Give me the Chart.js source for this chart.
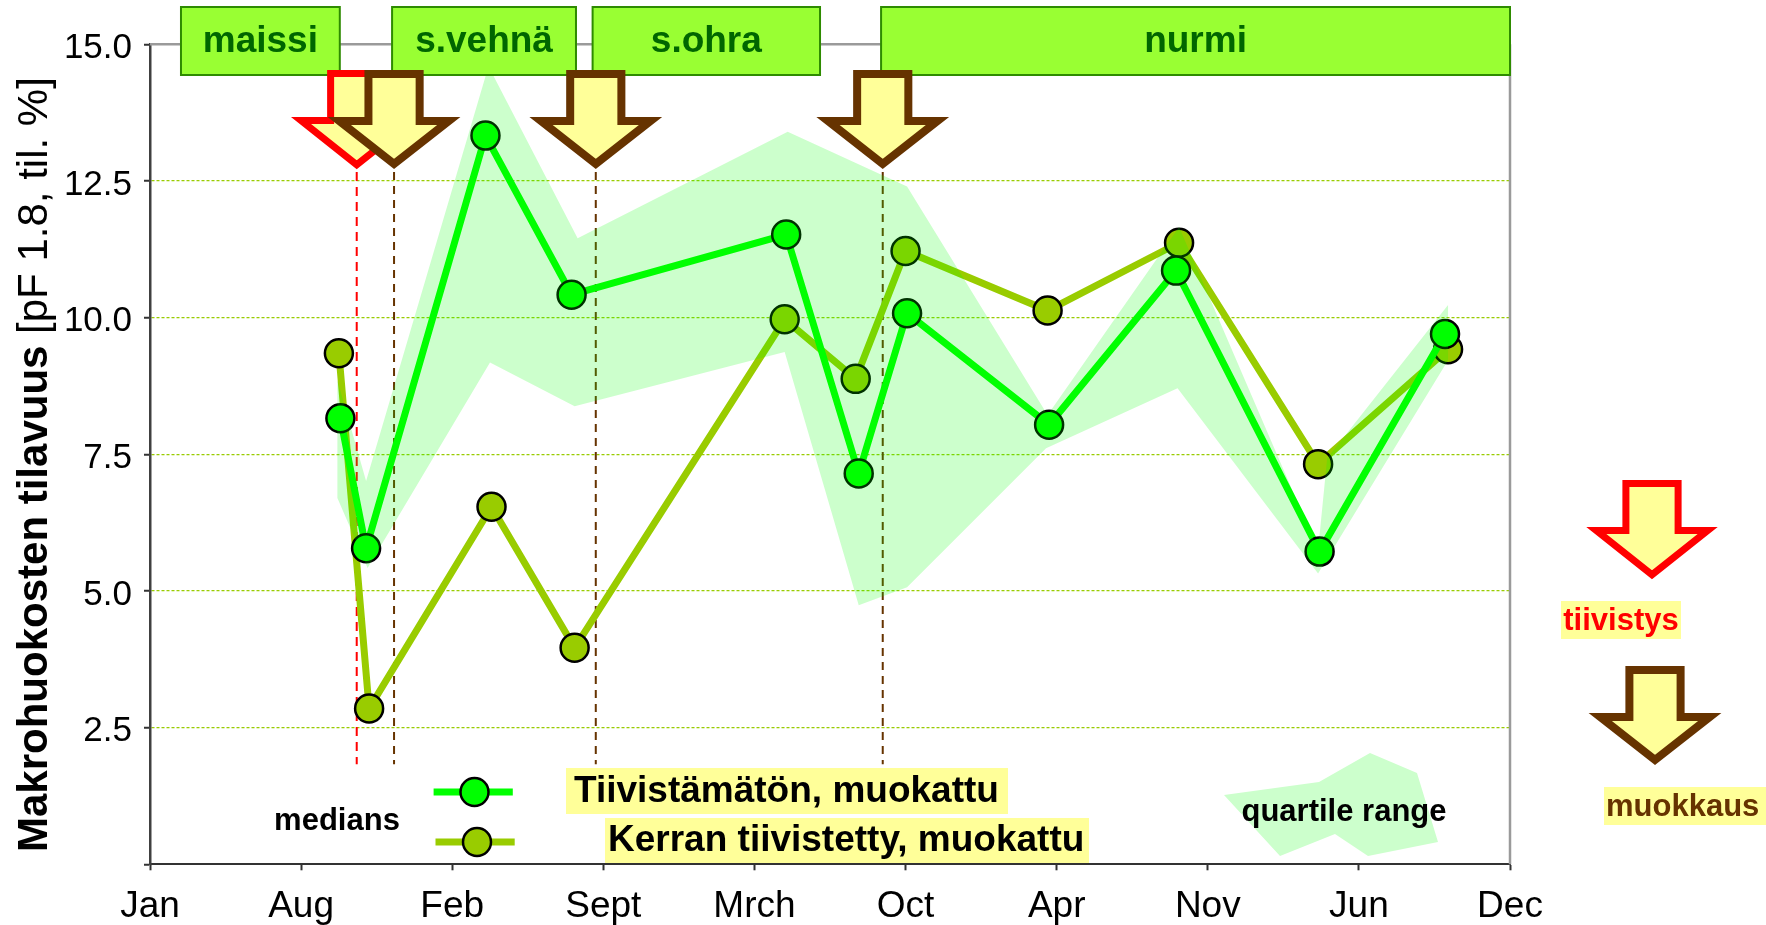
<!DOCTYPE html>
<html>
<head>
<meta charset="utf-8">
<script src="https://cdn.jsdelivr.net/npm/chart.js@4.4.1/dist/chart.umd.min.js"></script>
<style>
html,body{margin:0;padding:0;background:#fff;overflow:hidden}
#wrap{width:1766px;height:925px;position:relative}
</style>
</head>
<body>
<div id="wrap"><canvas id="c" width="1766" height="925"></canvas></div>
<script>
// ---------- data ----------
const monthLabels = ['Jan','Aug','Feb','Sept','Mrch','Oct','Apr','Nov','Jun','Dec'];
const yTickValues = [0, 2.5, 5, 7.5, 10, 12.5, 15];

const untreatedName = 'Tiivistämätön, muokattu';
const untreatedX = [1.26, 1.43, 2.22, 2.79, 4.21, 4.69, 5.01, 5.95, 6.79, 7.74, 8.57];
const untreatedY = [8.16, 5.78, 13.33, 10.42, 11.52, 7.15, 10.08, 8.04, 10.86, 5.72, 9.70];

const compactedName = 'Kerran tiivistetty, muokattu';
const compactedX = [1.25, 1.45, 2.26, 2.81, 4.20, 4.67, 5.00, 5.94, 6.81, 7.73, 8.59];
const compactedY = [9.35, 2.85, 6.54, 3.96, 9.97, 8.88, 11.22, 10.13, 11.37, 7.32, 9.42];

const bandUpperX = [1.24, 1.43, 2.24, 2.83, 4.22, 5.01, 5.94, 6.81, 7.73, 7.79, 8.59];
const bandUpperY = [8.86, 7.01, 14.60, 11.45, 13.40, 12.40, 8.22, 11.66, 5.75, 7.43, 10.23];
const bandLowerX = [1.24, 1.44, 2.25, 2.81, 4.20, 4.69, 5.01, 5.93, 6.80, 7.73, 8.59];
const bandLowerY = [6.70, 5.42, 9.18, 8.38, 9.37, 4.74, 5.07, 7.61, 8.71, 5.32, 9.22];

const cropNames = ['maissi', 's.vehnä', 's.ohra', 'nurmi'];
const cropStart = [0.205, 1.602, 2.929, 4.838];
const cropEnd   = [1.256, 2.819, 4.434, 9.0];

const compactionEvents = [1.368];          // tiivistys
const tillageEvents = [1.615, 2.950, 4.849]; // muokkaus

// ---------- styles ----------
const FONT = '"Liberation Sans", Arial, Helvetica, sans-serif';
const GREEN = '#00FF00';
const OLIVE = '#99CC00';
const RED = '#FF0000';
const BROWN = '#663300';
const PALE = '#FFFF99';

const toPts = (xs, ys) => xs.map((x, i) => ({x, y: ys[i]}));
const bandPts = toPts(bandUpperX, bandUpperY).concat(toPts(bandLowerX, bandLowerY).reverse());

function arrowPath(ctx, x, tipY, lw) {
  const sh = 29.6 - lw / 2, hh = 62 - lw * 0.9;
  const top = tipY - 100 + lw / 2, head = tipY - 53 + lw / 2, tip = tipY - lw * 0.75;
  ctx.beginPath();
  ctx.moveTo(x - sh, top); ctx.lineTo(x + sh, top); ctx.lineTo(x + sh, head);
  ctx.lineTo(x + hh, head); ctx.lineTo(x, tip); ctx.lineTo(x - hh, head);
  ctx.lineTo(x - sh, head); ctx.closePath();
}
function drawArrow(ctx, x, tipY, color, lw) {
  ctx.save();
  arrowPath(ctx, x, tipY, lw);
  ctx.fillStyle = PALE; ctx.fill();
  ctx.lineJoin = 'miter'; ctx.miterLimit = 10;
  ctx.lineWidth = lw; ctx.strokeStyle = color; ctx.stroke();
  ctx.restore();
}
function labelBox(ctx, x0, y0, x1, y1, text, tx, ty, color, font, align) {
  ctx.fillStyle = PALE; ctx.fillRect(x0, y0, x1 - x0, y1 - y0);
  ctx.fillStyle = color; ctx.font = font; ctx.textAlign = align || 'left'; ctx.textBaseline = 'middle';
  ctx.fillText(text, tx, ty);
}
function legendMarker(ctx, x0, x1, y, cx, color) {
  ctx.save();
  ctx.strokeStyle = color; ctx.lineWidth = 7; ctx.lineCap = 'butt';
  ctx.beginPath(); ctx.moveTo(x0, y); ctx.lineTo(x1, y); ctx.stroke();
  ctx.beginPath(); ctx.arc(cx, y, 14, 0, Math.PI * 2);
  ctx.fillStyle = color; ctx.fill(); ctx.lineWidth = 2.5; ctx.strokeStyle = '#000'; ctx.stroke();
  ctx.restore();
}

const overlay = {
  id: 'overlay',
  beforeDatasetsDraw(chart) {
    const {ctx, chartArea: a, scales: {x}} = chart;
    ctx.save();
    // frame top & right
    ctx.strokeStyle = '#9a9a9a'; ctx.lineWidth = 2.5;
    ctx.beginPath(); ctx.moveTo(a.left, a.top); ctx.lineTo(a.right, a.top);
    ctx.moveTo(a.right, a.top); ctx.lineTo(a.right, a.bottom); ctx.stroke();
    // dashed event lines
    ctx.lineWidth = 2;
    const drawV = (v, col, dash) => {
      const px = x.getPixelForValue(v);
      ctx.strokeStyle = col; ctx.setLineDash(dash);
      ctx.beginPath(); ctx.moveTo(px, 172); ctx.lineTo(px, a.bottom - 100); ctx.stroke();
    };
    compactionEvents.forEach(v => drawV(v, RED, [9, 6]));
    tillageEvents.forEach(v => drawV(v, BROWN, [8, 6]));
    ctx.restore();
  },
  afterDraw(chart) {
    const {ctx, chartArea: a, scales: {x}} = chart;
    ctx.save();
    // crop boxes
    cropNames.forEach((n, i) => {
      const x0 = x.getPixelForValue(cropStart[i]), x1 = x.getPixelForValue(cropEnd[i]);
      ctx.fillStyle = '#99FF33'; ctx.fillRect(x0, 7, x1 - x0, 68);
      ctx.strokeStyle = '#2E8B00'; ctx.lineWidth = 2; ctx.strokeRect(x0, 7, x1 - x0, 68);
      ctx.fillStyle = '#006600'; ctx.font = 'bold 37px ' + FONT;
      ctx.textAlign = 'center'; ctx.textBaseline = 'middle';
      ctx.fillText(n, (x0 + x1) / 2, 42);
    });
    // event arrows
    compactionEvents.forEach(v => drawArrow(ctx, x.getPixelForValue(v), 170, RED, 7));
    tillageEvents.forEach(v => drawArrow(ctx, x.getPixelForValue(v), 170, BROWN, 8));

    // medians legend
    ctx.fillStyle = '#000'; ctx.font = 'bold 31px ' + FONT; ctx.textAlign = 'center'; ctx.textBaseline = 'middle';
    ctx.fillText('medians', 337, 821);
    legendMarker(ctx, 433.6, 512.8, 792, 474.5, GREEN);
    legendMarker(ctx, 435.5, 514.7, 842, 477, OLIVE);
    labelBox(ctx, 566, 768, 1008, 814, untreatedName, 574, 792, '#000', 'bold 37px ' + FONT);
    labelBox(ctx, 605, 818, 1089, 863, compactedName, 608, 841, '#000', 'bold 37px ' + FONT);

    // quartile legend
    const q = [[1224,795],[1319,782],[1370,753],[1417,773],[1438,842],[1368,856],[1335,834],[1280,856]];
    ctx.beginPath(); q.forEach((p, i) => i ? ctx.lineTo(p[0], p[1]) : ctx.moveTo(p[0], p[1])); ctx.closePath();
    ctx.fillStyle = '#CCFFCC'; ctx.fill();
    ctx.fillStyle = '#000'; ctx.font = 'bold 31px ' + FONT; ctx.textAlign = 'center';
    ctx.fillText('quartile range', 1344, 812);

    // right side legend
    drawArrow(ctx, 1652, 580, RED, 7);
    labelBox(ctx, 1561, 601, 1681, 639, 'tiivistys', 1621, 621, RED, 'bold 31px ' + FONT, 'center');
    drawArrow(ctx, 1655, 766, BROWN, 8);
    labelBox(ctx, 1604, 787, 1766, 825, 'muokkaus', 1606, 807, BROWN, 'bold 31px ' + FONT, 'left');

    // y title (mixed weight)
    ctx.translate(47, 852); ctx.rotate(-Math.PI / 2);
    ctx.textAlign = 'left'; ctx.textBaseline = 'alphabetic'; ctx.fillStyle = '#000';
    ctx.font = 'bold 42px ' + FONT;
    const t1 = 'Makrohuokosten tilavuus ';
    ctx.fillText(t1, 0, 0);
    const w1 = ctx.measureText(t1).width;
    ctx.font = '42px ' + FONT;
    ctx.fillText('[pF 1.8, til. %]', w1, 0);
    ctx.restore();
  }
};

new Chart(document.getElementById('c'), {
  type: 'line',
  data: {
    datasets: [
      {
        label: 'quartile range',
        data: bandPts,
        fill: 'shape',
        backgroundColor: 'rgba(0,255,0,0.2)',
        borderWidth: 0,
        borderColor: 'rgba(0,0,0,0)',
        pointRadius: 0,
        tension: 0
      },
      {
        label: untreatedName,
        data: toPts(untreatedX, untreatedY),
        borderColor: GREEN, borderWidth: 7, tension: 0, fill: false,
        pointRadius: 14, pointBackgroundColor: GREEN, pointBorderColor: '#000', pointBorderWidth: 2.5
      },
      {
        label: compactedName,
        data: toPts(compactedX, compactedY),
        borderColor: OLIVE, borderWidth: 7, tension: 0, fill: false,
        pointRadius: 14, pointBackgroundColor: OLIVE, pointBorderColor: '#000', pointBorderWidth: 2.5
      }
    ]
  },
  options: {
    responsive: false,
    animation: false,
    devicePixelRatio: 1,
    layout: {padding: {top: 44.3, right: 256, left: 0, bottom: 0}},
    plugins: {legend: {display: false}, tooltip: {enabled: false}},
    scales: {
      x: {
        type: 'linear', min: 0, max: 9,
        afterFit: s => { s.height = 60.7; },
        afterBuildTicks: s => { s.ticks = monthLabels.map((_, i) => ({value: i})); },
        ticks: {
          autoSkip: false, maxRotation: 0, padding: 14, color: '#000',
          font: {family: FONT, size: 37},
          callback: v => monthLabels[v] ?? ''
        },
        grid: {drawOnChartArea: false, drawTicks: true, tickLength: 6, tickColor: '#333', tickWidth: 2},
        border: {color: '#333', width: 2}
      },
      y: {
        min: 0, max: 15,
        afterFit: s => { s.width = 150; },
        afterBuildTicks: s => { s.ticks = yTickValues.map(v => ({value: v})); },
        ticks: {
          padding: 12, color: '#000', labelOffset: 4,
          font: {family: FONT, size: 35},
          callback: v => v === 0 ? '' : Number(v).toFixed(1)
        },
        grid: {
          color: c => (c.tick && (c.tick.value === 0 || c.tick.value === 15)) ? 'rgba(0,0,0,0)' : OLIVE,
          lineWidth: 1.3, drawTicks: true, tickLength: 6, tickColor: '#333', tickWidth: 2, tickBorderDash: [1, 0]
        },
        border: {color: '#404040', width: 2.5, dash: [3, 2]}
      }
    }
  },
  plugins: [overlay]
});
</script>
</body>
</html>
